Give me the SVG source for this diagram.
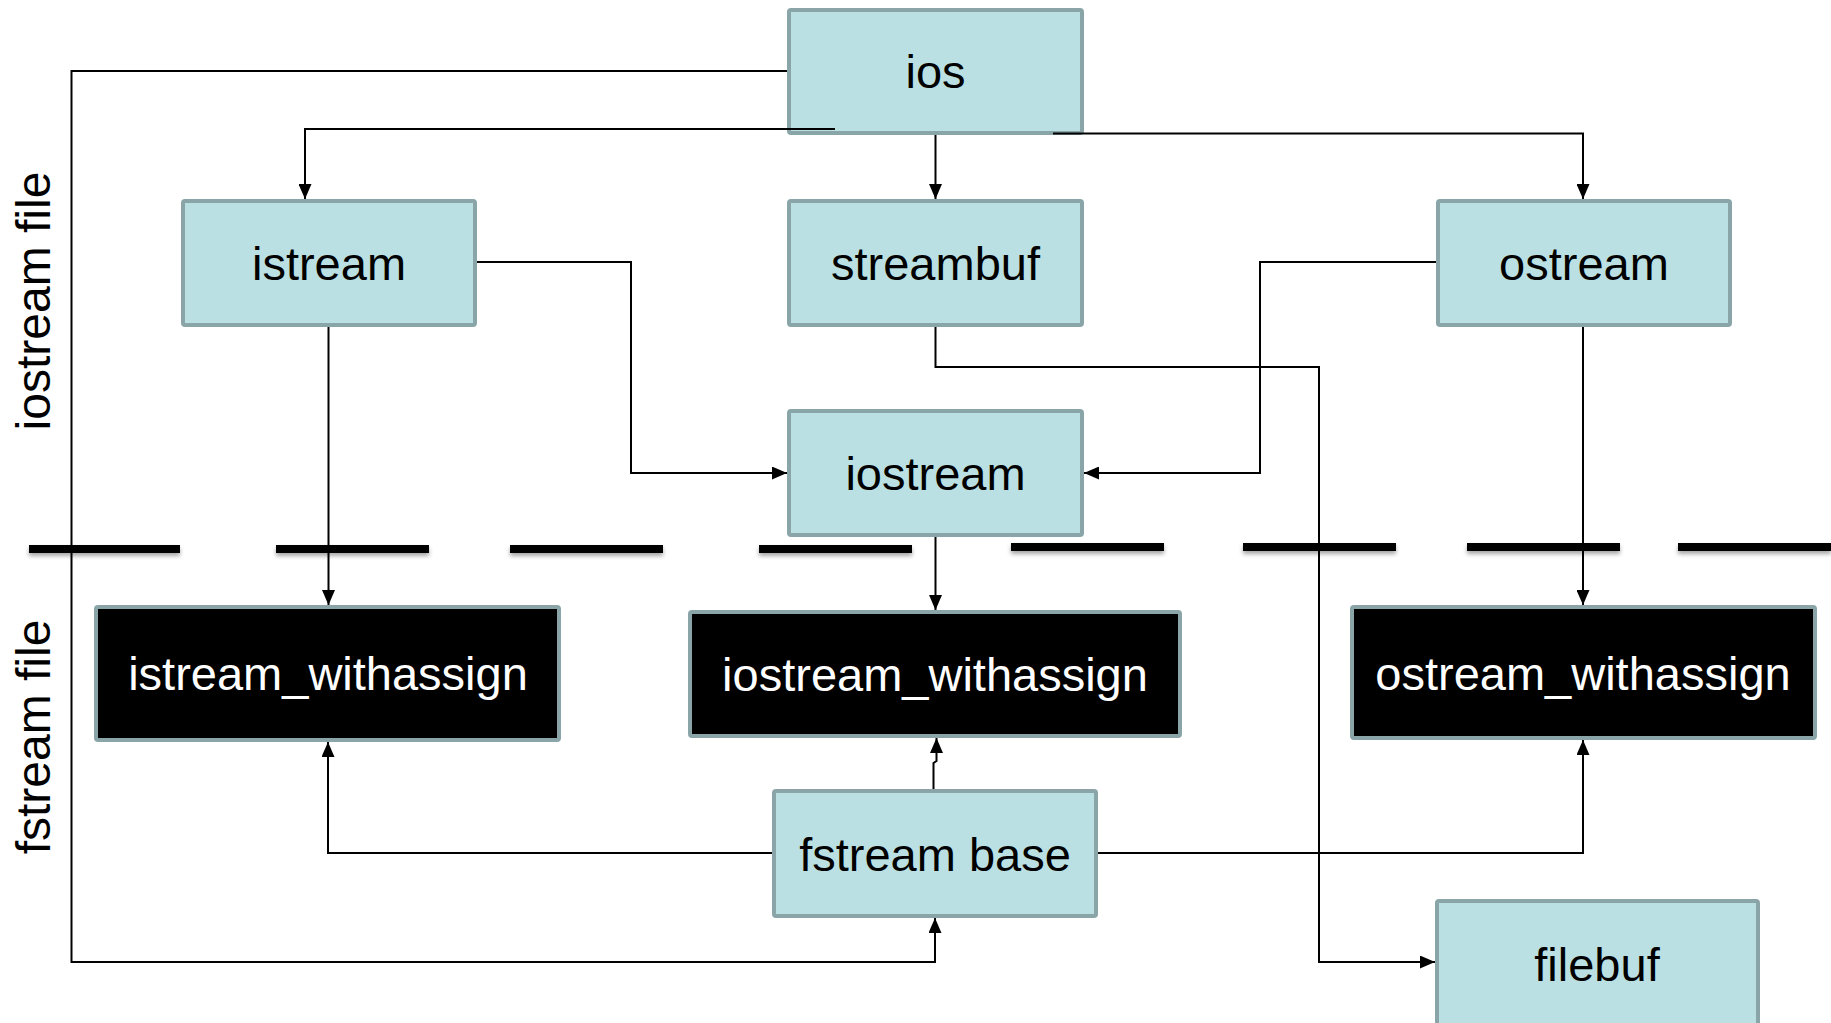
<svg xmlns="http://www.w3.org/2000/svg" width="1831" height="1023" viewBox="0 0 1831 1023">
<style>
.box{fill:#bae0e3;stroke:#89a5a8;stroke-width:4}
.dark{fill:#000;stroke:#89a5a8;stroke-width:4}
.t{font-family:"Liberation Sans",Arial,sans-serif;font-size:47px;text-anchor:middle;fill:#000}
.tw{font-family:"Liberation Sans",Arial,sans-serif;font-size:47px;text-anchor:middle;fill:#fff}
.side{font-family:"Liberation Sans",Arial,sans-serif;font-size:48px;text-anchor:middle;fill:#000}
.c{fill:none;stroke:#000;stroke-width:2}
.dash{stroke:#000;stroke-width:8}
</style>
<defs>
<marker id="ar" markerUnits="userSpaceOnUse" markerWidth="16" markerHeight="13" refX="15" refY="6.5" orient="auto">
<path d="M0,0 L15,6.5 L0,13 z" fill="#000"/>
</marker>
<filter id="sh" filterUnits="userSpaceOnUse" x="0" y="520" width="1831" height="60">
<feDropShadow dx="0" dy="3" stdDeviation="2" flood-color="#000" flood-opacity="0.35"/>
</filter>
</defs>
<rect width="1831" height="1023" fill="#fff"/>
<g id="separator" filter="url(#sh)">
<line class="dash" x1="29" y1="549" x2="180" y2="549"/>
<line class="dash" x1="276" y1="549" x2="429" y2="549"/>
<line class="dash" x1="510" y1="549" x2="663" y2="549"/>
<line class="dash" x1="759" y1="549" x2="912" y2="549"/>
<line class="dash" x1="1011" y1="547" x2="1164" y2="547"/>
<line class="dash" x1="1243" y1="547" x2="1396" y2="547"/>
<line class="dash" x1="1467" y1="547" x2="1620" y2="547"/>
<line class="dash" x1="1678" y1="547" x2="1831" y2="547"/>
</g>
<g id="labels">
<text class="side" transform="translate(50,301) rotate(-90)">iostream file</text>
<text class="side" transform="translate(50,737) rotate(-90)">fstream file</text>
</g>
<g id="ios"><rect class="box" x="789" y="10" width="293" height="123" rx="2"/><text class="t" x="935.5" y="88">ios</text></g>
<g id="istream"><rect class="box" x="183" y="201" width="292" height="124" rx="2"/><text class="t" x="329" y="280">istream</text></g>
<g id="streambuf"><rect class="box" x="789" y="201" width="293" height="124" rx="2"/><text class="t" x="935.5" y="280">streambuf</text></g>
<g id="ostream"><rect class="box" x="1438" y="201" width="292" height="124" rx="2"/><text class="t" x="1584" y="280">ostream</text></g>
<g id="iostream"><rect class="box" x="789" y="411" width="293" height="124" rx="2"/><text class="t" x="935.5" y="490">iostream</text></g>
<g id="istream_withassign"><rect class="dark" x="96" y="607" width="463" height="133" rx="2"/><text class="tw" x="328" y="690">istream_withassign</text></g>
<g id="iostream_withassign"><rect class="dark" x="690" y="612" width="490" height="124" rx="2"/><text class="tw" x="935" y="691">iostream_withassign</text></g>
<g id="ostream_withassign"><rect class="dark" x="1352" y="607" width="463" height="131" rx="2"/><text class="tw" x="1583" y="690">ostream_withassign</text></g>
<g id="fstream_base"><rect class="box" x="774" y="791" width="322" height="125" rx="2"/><text class="t" x="935" y="871">fstream base</text></g>
<g id="filebuf"><rect class="box" x="1437" y="901" width="321" height="140" rx="2"/><text class="t" x="1597" y="981">filebuf</text></g>
<g id="connectors">
<path class="c" d="M787 71 H71.5 V962 H935 V918" marker-end="url(#ar)"/>
<path class="c" d="M835 129 H305 V199" marker-end="url(#ar)"/>
<path class="c" d="M935.5 135 V199" marker-end="url(#ar)"/>
<path class="c" d="M1053 133.5 H1583 V199" marker-end="url(#ar)"/>
<path class="c" d="M477 262 H631 V473 H787" marker-end="url(#ar)"/>
<path class="c" d="M1436 262 H1260 V473 H1084" marker-end="url(#ar)"/>
<path class="c" d="M935.5 327 V367 H1319 V962 H1435" marker-end="url(#ar)"/>
<path class="c" d="M328.5 327 V605" marker-end="url(#ar)"/>
<path class="c" d="M935.5 537 V610" marker-end="url(#ar)"/>
<path class="c" d="M1583 327 V605" marker-end="url(#ar)"/>
<path class="c" d="M772 853 H328 V742" marker-end="url(#ar)"/>
<path class="c" d="M933.5 789 V763 L936.5 761 V738" marker-end="url(#ar)"/>
<path class="c" d="M1098 853 H1583 V740" marker-end="url(#ar)"/>
</g>
</svg>
